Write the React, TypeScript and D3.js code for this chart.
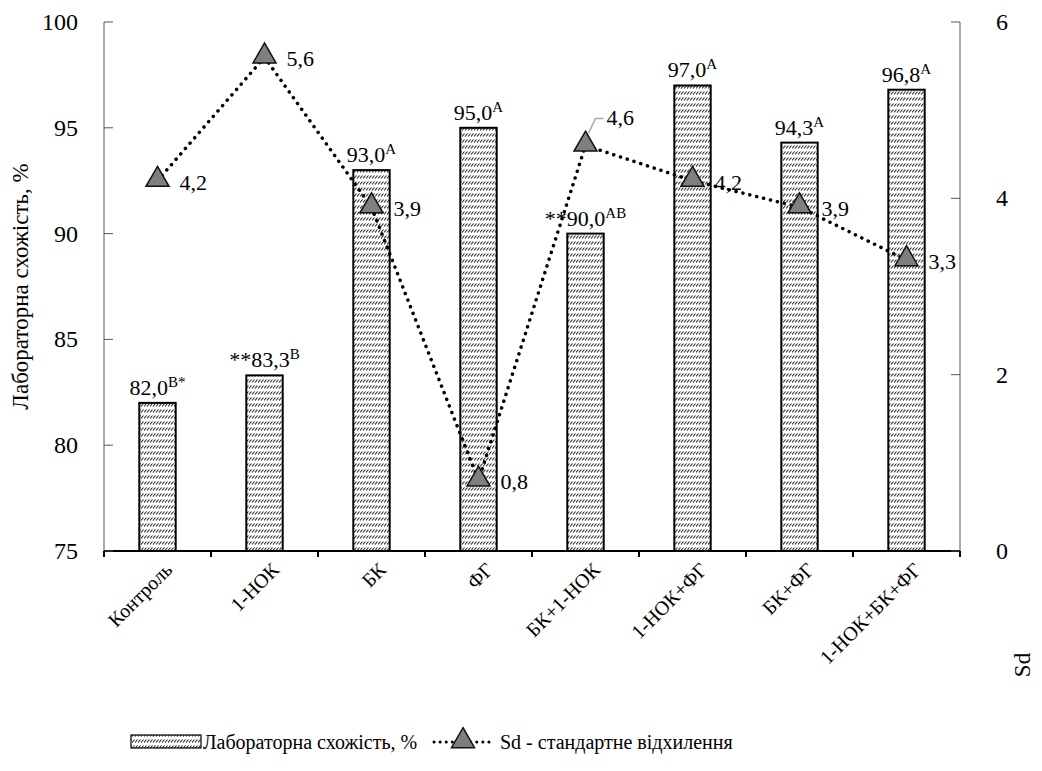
import React from 'react';
import * as d3 from 'd3';

// data
const categories = ['Контроль', '1-НОК', 'БК', 'ФГ', 'БК+1-НОК', '1-НОК+ФГ', 'БК+ФГ', '1-НОК+БК+ФГ'];
const germination = [82.0, 83.3, 93.0, 95.0, 90.0, 97.0, 94.3, 96.8];
const prefixes = ['', '**', '', '', '**', '', '', ''];
const superscripts = ['B*', 'B', 'A', 'A', 'AB', 'A', 'A', 'A'];
const sdValues = [4.2, 5.6, 3.9, 0.8, 4.6, 4.2, 3.9, 3.3];
const leftTicks = [75, 80, 85, 90, 95, 100];
const rightTicks = [0, 2, 4, 6];

const W = 1042;
const H = 771;
const FONT = 'Liberation Serif, Times New Roman, serif';

const x0 = 104, x1 = 960, yTop = 22, yBot = 551;

const x = d3.scaleBand().domain(categories).range([x0, x1]).paddingInner(0.66).paddingOuter(0.33);
const y = d3.scaleLinear().domain([75, 100]).range([yBot, yTop]);
const ySd = d3.scaleLinear().domain([0, 6]).range([yBot, yTop]);
const cx = (c: string) => (x(c) as number) + x.bandwidth() / 2;
const fmt = (v: number) => d3.format('.1f')(v).replace('.', ',');

const sdLine = d3.line<number>()
  .x((d, i) => cx(categories[i]))
  .y((d) => ySd(d));
const tri = d3.symbol().type(d3.symbolTriangle).size(230)() as string;

const App = () => {
  const ly = 742;
  return (
    <div style={{ margin: -8 }}>
      <svg width={W} height={H} style={{ display: 'block' }} fontFamily={FONT}>
        <defs>
          <pattern id="hatch" patternUnits="userSpaceOnUse" width={6} height={6}>
            <rect width={6} height={6} fill="#fff" />
            <path d="M0,4.5 L2.5,1.5 M3,4.5 L5.5,1.5" stroke="#222" strokeWidth={1.1} />
          </pattern>
        </defs>

        {/* bars */}
        {germination.map((d, i) => (
          <rect
            key={categories[i]}
            x={x(categories[i])}
            y={y(d)}
            width={x.bandwidth()}
            height={yBot - y(d)}
            fill="url(#hatch)"
            stroke="#000"
            strokeWidth={2}
          />
        ))}

        {/* bar labels */}
        {germination.map((d, i) => (
          <text key={'l' + i} x={cx(categories[i])} y={y(d) - 8} textAnchor="middle" fontSize={22} fontFamily={FONT}>
            <tspan>{`${prefixes[i]}${fmt(d)}`}</tspan>
            <tspan dy={-8} fontSize={15}>{superscripts[i]}</tspan>
          </text>
        ))}

        {/* axes */}
        <line x1={x0} x2={x0} y1={yTop} y2={yBot} stroke="#555" />
        <line x1={x1} x2={x1} y1={yTop} y2={yBot} stroke="#555" />
        <line x1={x0} x2={x1} y1={yBot} y2={yBot} stroke="#000" strokeWidth={2} />

        {leftTicks.map((t) => (
          <g key={'lt' + t}>
            <line x1={x0} x2={x0 + 9} y1={y(t)} y2={y(t)} stroke="#555" />
            <text x={78} y={y(t) + 8} textAnchor="end" fontSize={24} fontFamily={FONT}>{t}</text>
          </g>
        ))}
        {rightTicks.map((t) => (
          <g key={'rt' + t}>
            <line x1={x1 - 9} x2={x1} y1={ySd(t)} y2={ySd(t)} stroke="#555" />
            <text x={996} y={ySd(t) + 8} fontSize={24} fontFamily={FONT}>{t}</text>
          </g>
        ))}

        {d3.range(categories.length + 1).map((i) => (
          <line key={'bt' + i} x1={x0 + i * x.step()} x2={x0 + i * x.step()} y1={yBot} y2={yBot + 6} stroke="#000" strokeWidth={2} />
        ))}

        {categories.map((c) => (
          <text
            key={'xl' + c}
            transform={`translate(${cx(c) + 16},${yBot + 20}) rotate(-45)`}
            textAnchor="end"
            fontSize={20}
            fontFamily={FONT}
          >
            {c}
          </text>
        ))}

        {/* axis titles */}
        <text transform={`translate(28,${(yTop + yBot) / 2}) rotate(-90)`} textAnchor="middle" fontSize={23} fontFamily={FONT}>
          Лабораторна схожість, %
        </text>
        <text transform="translate(1030,665) rotate(-90)" textAnchor="middle" fontSize={23} fontFamily={FONT}>
          Sd
        </text>

        {/* Sd line */}
        <path
          d={sdLine(sdValues) as string}
          fill="none"
          stroke="#000"
          strokeWidth={3.5}
          strokeLinecap="round"
          strokeDasharray="0.1,7"
        />
        {sdValues.map((d, i) => (
          <path
            key={'tri' + i}
            d={tri}
            transform={`translate(${cx(categories[i])},${ySd(d) - 1})`}
            fill="#7f7f7f"
            stroke="#111"
            strokeWidth={1.5}
          />
        ))}
        {sdValues.map((d, i) => {
          const px = cx(categories[i]);
          const py = ySd(d);
          if (i === 4) {
            return (
              <g key={'sd' + i}>
                <path d={`M${px + 3},${py - 12} L${px + 10},${py - 27} L${px + 18},${py - 27}`} fill="none" stroke="#aaa" strokeWidth={1.5} />
                <text x={px + 21} y={py - 20} fontSize={22} fontFamily={FONT}>{fmt(d)}</text>
              </g>
            );
          }
          return (
            <text key={'sd' + i} x={px + 22} y={py + 9} fontSize={22} fontFamily={FONT}>{fmt(d)}</text>
          );
        })}

        {/* legend */}
        <rect x={131} y={ly - 7} width={70} height={13} fill="url(#hatch)" stroke="#000" strokeWidth={1.2} />
        <text x={203} y={ly + 7} fontSize={20} fontFamily={FONT}>Лабораторна схожість, %</text>
        <line x1={434} x2={494} y1={ly} y2={ly} stroke="#000" strokeWidth={3} strokeLinecap="round" strokeDasharray="0.1,6" />
        <path d={tri} transform={`translate(463,${ly - 1})`} fill="#7f7f7f" stroke="#111" strokeWidth={1.5} />
        <text x={500} y={ly + 7} fontSize={20} fontFamily={FONT}>Sd - стандартне відхилення</text>
      </svg>
    </div>
  );
};

export default App;
